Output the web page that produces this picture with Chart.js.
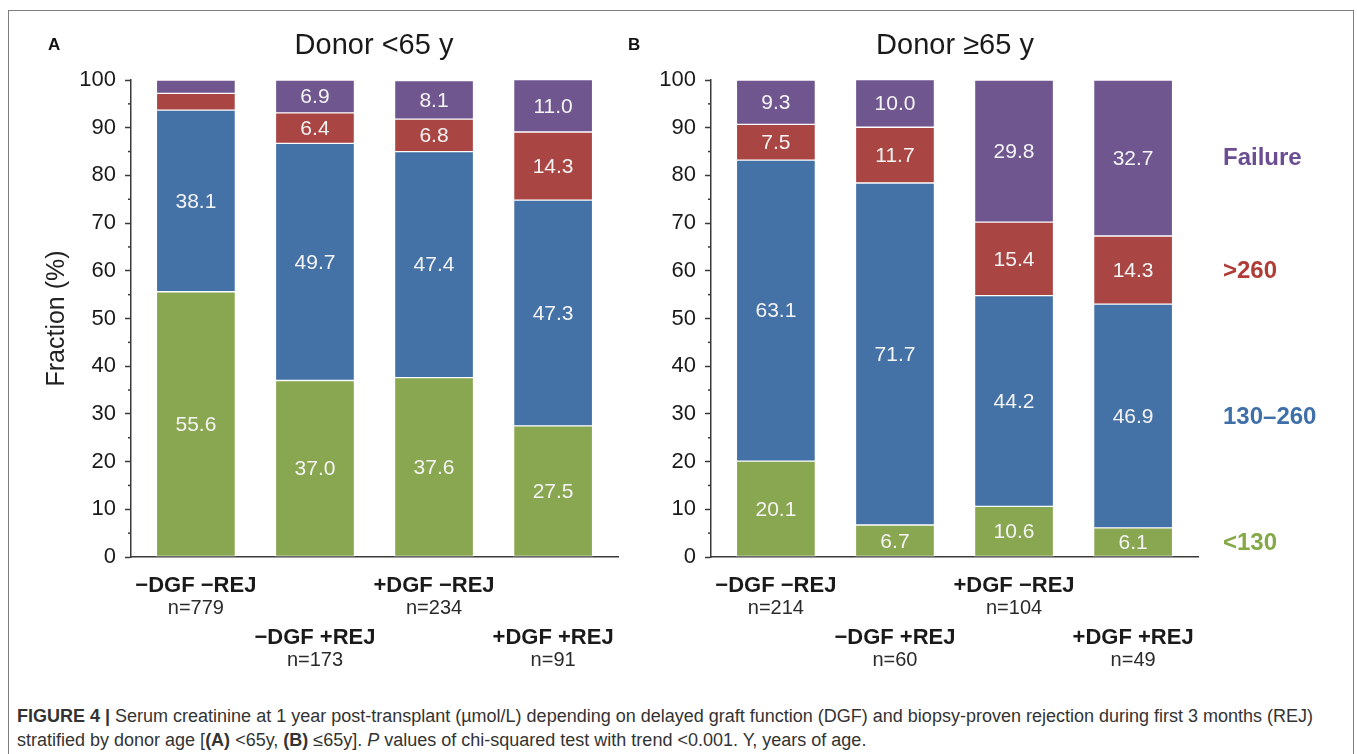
<!DOCTYPE html>
<html>
<head>
<meta charset="utf-8">
<script src="https://cdn.jsdelivr.net/npm/chart.js@4.4.1/dist/chart.umd.min.js"></script>
<style>
  html, body { margin: 0; padding: 0; background: #fff; }
  body { width: 1357px; height: 754px; position: relative; overflow: hidden; font-family: 'Liberation Sans', Arial, sans-serif; }
  #frame { position: absolute; left: 8px; top: 10px; width: 1346px; height: 760px; border: 1.5px solid #7d7d7d; box-sizing: border-box; }
  canvas { position: absolute; top: 0; }
  .txt { position: absolute; white-space: nowrap; line-height: 1; }
  .letter { font-weight: bold; font-size: 17px; color: #111; }
  .ptitle { font-size: 29px; color: #1a1a1a; transform: translate(-50%, -50%); }
  .leg { font-weight: bold; font-size: 24px; transform: translateY(-50%); }
  .cap { font-size: 18px; color: #333; left: 17px; transform: translateY(-50%); }
</style>
</head>
<body>
<div id="frame"></div>
<canvas id="chartA" style="left:0px"></canvas>
<canvas id="chartB" style="left:620px"></canvas>

<div class="txt letter" style="left:48px; top:36px;">A</div>
<div class="txt ptitle" style="left:374px; top:44px;">Donor &lt;65 y</div>
<div class="txt letter" style="left:628px; top:36px;">B</div>
<div class="txt ptitle" style="left:955px; top:44px;">Donor ≥65 y</div>

<div class="txt leg" style="left:1223px; top:157px; color:#6b4e92;">Failure</div>
<div class="txt leg" style="left:1223px; top:270px; color:#b03b37;">&gt;260</div>
<div class="txt leg" style="left:1223px; top:416px; color:#3f6fa9;">130–260</div>
<div class="txt leg" style="left:1223px; top:542px; color:#86a948;">&lt;130</div>

<div class="txt cap" style="top:716px;"><b>FIGURE 4 |</b> Serum creatinine at 1 year post-transplant (µmol/L) depending on delayed graft function (DGF) and biopsy-proven rejection during first 3 months (REJ)</div>
<div class="txt cap" style="top:740px;">stratified by donor age [<b>(A)</b> &lt;65y, <b>(B)</b> ≤65y]. <i>P</i> values of chi-squared test with trend &lt;0.001. Y, years of age.</div>

<script>
// ---------- data ----------
const categories = ['−DGF −REJ', '−DGF +REJ', '+DGF −REJ', '+DGF +REJ'];
const countsA = ['n=779', 'n=173', 'n=234', 'n=91'];
const countsB = ['n=214', 'n=60', 'n=104', 'n=49'];
const seriesNames = ['<130', '130–260', '>260', 'Failure'];

const donorUnder65_lt130   = [55.6, 37.0, 37.6, 27.5];
const donorUnder65_130_260 = [38.1, 49.7, 47.4, 47.3];
const donorUnder65_gt260   = [3.5, 6.4, 6.8, 14.3];
const donorUnder65_failure = [2.8, 6.9, 8.1, 11.0];

const donorOver65_lt130   = [20.1, 6.7, 10.6, 6.1];
const donorOver65_130_260 = [63.1, 71.7, 44.2, 46.9];
const donorOver65_gt260   = [7.5, 11.7, 15.4, 14.3];
const donorOver65_failure = [9.3, 10.0, 29.8, 32.7];

const yMin = 0, yMax = 100, yStep = 5, yLabelStep = 10;

// ---------- styles ----------
const colors = ['#89a650', '#4572a6', '#a94543', '#6f568f'];
const axisColor = '#3a3a3a';
const FONT = "'Liberation Sans', Arial, sans-serif";

const segmentLabels = {
  id: 'segmentLabels',
  afterDatasetsDraw(chart) {
    const ctx = chart.ctx;
    ctx.save();
    ctx.font = '21px ' + FONT;
    ctx.fillStyle = '#f4f4f4';
    ctx.textAlign = 'center';
    ctx.textBaseline = 'middle';
    chart.data.datasets.forEach((ds, di) => {
      const meta = chart.getDatasetMeta(di);
      meta.data.forEach((el, i) => {
        const v = ds.data[i];
        if (v < 5) return;
        const yc = (el.y + el.base) / 2;
        ctx.fillText(v.toFixed(1), el.x, yc + 1);
      });
    });
    ctx.restore();
  }
};

const axisExtras = {
  id: 'axisExtras',
  afterDraw(chart, args, opts) {
    const ctx = chart.ctx;
    const ys = chart.scales.y, xs = chart.scales.x;
    ctx.save();
    // minor ticks
    ctx.strokeStyle = axisColor;
    ctx.lineWidth = 1.5;
    ys.ticks.forEach(t => {
      if (t.value % yLabelStep !== 0) {
        const y = ys.getPixelForValue(t.value);
        ctx.beginPath();
        ctx.moveTo(ys.right - 3, y);
        ctx.lineTo(ys.right, y);
        ctx.stroke();
      }
    });
    // category labels (staggered)
    ctx.textAlign = 'center';
    ctx.textBaseline = 'middle';
    const base = xs.top;
    opts.names.forEach((name, i) => {
      const x = xs.getPixelForValue(i);
      const row = i % 2;
      ctx.fillStyle = '#1a1a1a';
      ctx.font = 'bold 22px ' + FONT;
      ctx.fillText(name, x, base + 29 + row * 52);
      ctx.font = '20px ' + FONT;
      ctx.fillStyle = '#2a2a2a';
      ctx.fillText(opts.counts[i], x, base + 51 + row * 52);
    });
    ctx.restore();
  }
};

function makeChart(canvasId, series, counts, withTitle, pad) {
  const datasets = series.map((arr, k) => ({
    label: seriesNames[k],
    data: arr,
    backgroundColor: colors[k],
    borderColor: 'rgba(255,255,255,0.45)',
    borderWidth: 1,
    borderSkipped: false,
    barThickness: 79
  }));
  const cv = document.getElementById(canvasId);
  return new Chart(cv, {
    type: 'bar',
    data: { labels: categories.map((c, i) => i), datasets },
    options: {
      responsive: false,
      animation: false,
      events: [],
      layout: { padding: pad },
      plugins: {
        legend: { display: false },
        tooltip: { enabled: false },
        axisExtras: { names: categories, counts: counts }
      },
      scales: {
        x: {
          type: 'linear',
          stacked: true,
          offset: false,
          min: -0.545,
          max: 3.545,
          grid: { display: false, drawTicks: false, offset: false },
          ticks: { display: false },
          border: { display: true, color: axisColor, width: 1.5 },
          afterFit(s) { s.height = 0; }
        },
        y: {
          stacked: true,
          min: yMin,
          max: yMax,
          ticks: {
            stepSize: yStep,
            autoSkip: false,
            padding: 9,
            color: '#1a1a1a',
            font: { size: 22, family: FONT },
            callback: v => (v % yLabelStep === 0 ? String(v) : '')
          },
          grid: {
            drawOnChartArea: false,
            drawTicks: true,
            tickLength: 6,
            tickWidth: 1.5,
            tickColor: c => (c.tick && c.tick.value % yLabelStep === 0 ? axisColor : 'rgba(0,0,0,0)')
          },
          border: { display: true, color: axisColor, width: 1.5 },
          title: {
            display: withTitle,
            text: 'Fraction (%)',
            color: '#222',
            font: { size: 25, family: FONT },
            padding: { top: 11, bottom: 0 }
          },
          afterFit(s) { s.width = withTitle ? 100 : 80; }
        }
      }
    },
    plugins: [segmentLabels, axisExtras]
  });
}

const cA = document.getElementById('chartA');
cA.width = 620; cA.height = 690;
const cB = document.getElementById('chartB');
cB.width = 737; cB.height = 690;

makeChart('chartA',
  [donorUnder65_lt130, donorUnder65_130_260, donorUnder65_gt260, donorUnder65_failure],
  countsA, true, { left: 31, right: 2, top: 80, bottom: 133 });
makeChart('chartB',
  [donorOver65_lt130, donorOver65_130_260, donorOver65_gt260, donorOver65_failure],
  countsB, false, { left: 11, right: 159, top: 80, bottom: 133 });
</script>
</body>
</html>
